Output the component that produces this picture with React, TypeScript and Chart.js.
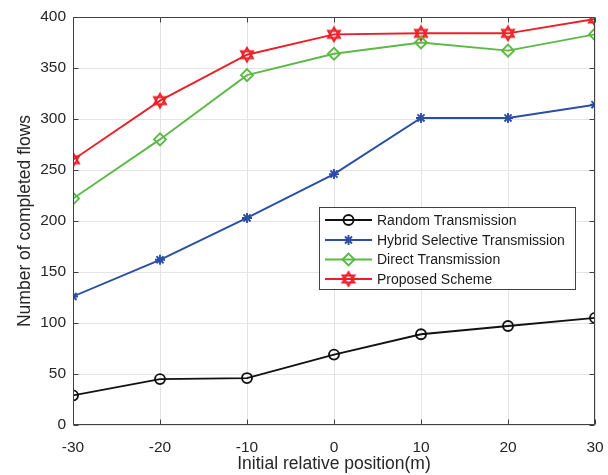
import React, { useEffect, useRef } from 'react';
import { Chart, registerables } from 'chart.js';
import { drawPoint } from 'chart.js/helpers';

Chart.register(...registerables);

const positions = [-30, -20, -10, 0, 10, 20, 30];
const randomTx = [29, 45, 46, 69, 89, 97, 105];
const hybridTx = [126, 162, 203, 246, 301, 301, 314];
const directTx = [222, 280, 343, 364, 375, 367, 383];
const proposedTx = [260, 318, 363, 383, 384, 384, 398];
const seriesNames = ['Random Transmission', 'Hybrid Selective Transmission', 'Direct Transmission', 'Proposed Scheme'];
const xTickValues = [-30, -20, -10, 0, 10, 20, 30];
const yTickValues = [0, 50, 100, 150, 200, 250, 300, 350, 400];
const xTitle = 'Initial relative position(m)';
const yTitle = 'Number of completed flows';

const COLORS = ['#111111', '#2a4ea6', '#5cb946', '#ec1f27'];
const FONT = '"Liberation Sans", Arial, Helvetica, sans-serif';

function makeHexagram(color: string): HTMLCanvasElement {
  const c = document.createElement('canvas');
  c.width = 18;
  c.height = 18;
  const ctx = c.getContext('2d')!;
  const cx = 9, cy = 9, r = 7;
  ctx.strokeStyle = color;
  ctx.lineWidth = 1.8;
  ctx.lineJoin = 'miter';
  for (let t = 0; t < 2; t++) {
    ctx.beginPath();
    for (let k = 0; k < 3; k++) {
      const a = -Math.PI / 2 + t * Math.PI + (k * 2 * Math.PI) / 3;
      const px = cx + r * Math.cos(a);
      const py = cy + r * Math.sin(a);
      if (k === 0) ctx.moveTo(px, py);
      else ctx.lineTo(px, py);
    }
    ctx.closePath();
    ctx.stroke();
  }
  return c;
}

function toPoints(vals: number[]) {
  return positions.map((x, i) => ({ x, y: vals[i] }));
}

export default function App() {
  const ref = useRef<HTMLCanvasElement | null>(null);

  useEffect(() => {
    const canvas = ref.current;
    if (!canvas) return;
    const hexagram = makeHexagram(COLORS[3]);
    const markerDefs: any[] = [
      { pointStyle: 'circle', radius: 5, borderWidth: 1.9 },
      { pointStyle: 'star', radius: 5, borderWidth: 1.9 },
      { pointStyle: 'rectRot', radius: 6, borderWidth: 1.9 },
      { pointStyle: hexagram, radius: 7, borderWidth: 1.9 },
    ];
    const seriesData = [randomTx, hybridTx, directTx, proposedTx];

    const framePlugin = {
      id: 'matlabFrame',
      afterDatasetsDraw(chart: any) {
        const { ctx, chartArea: a, scales } = chart;
        ctx.save();
        ctx.strokeStyle = '#404040';
        ctx.lineWidth = 1;
        const L = Math.round(a.left) + 0.5, R = Math.round(a.right) - 0.5;
        const T = Math.round(a.top) + 0.5, B = Math.round(a.bottom) - 0.5;
        ctx.beginPath();
        ctx.rect(L, T, R - L, B - T);
        const tl = 5;
        xTickValues.forEach((v) => {
          const x = Math.round(scales.x.getPixelForValue(v)) + 0.5;
          ctx.moveTo(x, B); ctx.lineTo(x, B - tl);
          ctx.moveTo(x, T); ctx.lineTo(x, T + tl);
        });
        yTickValues.forEach((v) => {
          const y = Math.round(scales.y.getPixelForValue(v)) + 0.5;
          ctx.moveTo(L, y); ctx.lineTo(L + tl, y);
          ctx.moveTo(R, y); ctx.lineTo(R - tl, y);
        });
        ctx.stroke();
        ctx.restore();
      },
      afterDraw(chart: any) {
        const { ctx } = chart;
        ctx.save();
        const bx = 319.5, by = 207.5, bw = 256, bh = 82;
        ctx.fillStyle = '#ffffff';
        ctx.fillRect(bx, by, bw, bh);
        ctx.strokeStyle = '#404040';
        ctx.lineWidth = 1;
        ctx.strokeRect(bx, by, bw, bh);
        const rows = [220, 240, 259.5, 279];
        ctx.font = `14px ${FONT}`;
        ctx.textBaseline = 'middle';
        ctx.textAlign = 'left';
        seriesNames.forEach((name, i) => {
          const y = rows[i];
          ctx.strokeStyle = COLORS[i];
          ctx.lineWidth = 1.9;
          ctx.beginPath();
          ctx.moveTo(325, y);
          ctx.lineTo(372, y);
          ctx.stroke();
          ctx.fillStyle = 'rgba(0,0,0,0)';
          ctx.strokeStyle = COLORS[i];
          ctx.lineWidth = markerDefs[i].borderWidth;
          drawPoint(ctx, { ...markerDefs[i], rotation: 0 }, 348.5, y);
          ctx.fillStyle = '#1a1a1a';
          ctx.fillText(name, 377, y + 1);
        });
        ctx.restore();
      },
    };

    const chart = new Chart(canvas, {
      type: 'line',
      data: {
        datasets: seriesData.map((vals, i) => ({
          label: seriesNames[i],
          data: toPoints(vals),
          borderColor: COLORS[i],
          backgroundColor: 'rgba(0,0,0,0)',
          borderWidth: 1.9,
          pointStyle: markerDefs[i].pointStyle,
          pointRadius: markerDefs[i].radius,
          pointBorderWidth: markerDefs[i].borderWidth,
          pointBorderColor: COLORS[i],
          pointBackgroundColor: 'rgba(0,0,0,0)',
          tension: 0,
          fill: false,
        })),
      },
      options: {
        animation: false,
        responsive: false,
        devicePixelRatio: 1,
        layout: { padding: { top: 17, right: 13, left: 0, bottom: 0 } },
        plugins: { legend: { display: false }, tooltip: { enabled: false } },
        scales: {
          x: {
            type: 'linear',
            min: -30,
            max: 30,
            afterBuildTicks: (s: any) => { s.ticks = xTickValues.map((v) => ({ value: v })); },
            afterFit: (s: any) => { s.height = 50; s.paddingLeft = 0; s.paddingRight = 0; },
            ticks: { color: '#262626', font: { family: FONT, size: 15.5 }, padding: 13, maxRotation: 0 },
            grid: { color: '#e4e4e4', lineWidth: 1, drawTicks: false },
            border: { display: false },
            title: { display: true, text: xTitle, color: '#262626', font: { family: FONT, size: 17.5 }, padding: { top: 0, bottom: 0 } },
          },
          y: {
            type: 'linear',
            min: 0,
            max: 400,
            afterBuildTicks: (s: any) => { s.ticks = yTickValues.map((v) => ({ value: v })); },
            afterFit: (s: any) => { s.width = 73; s.paddingTop = 0; s.paddingBottom = 0; },
            ticks: { color: '#262626', font: { family: FONT, size: 15.5 }, padding: 7 },
            grid: { color: '#e4e4e4', lineWidth: 1, drawTicks: false },
            border: { display: false },
            title: { display: true, text: yTitle, color: '#262626', font: { family: FONT, size: 17.5 }, padding: { top: 14.5, bottom: 0 } },
          },
        },
      },
      plugins: [framePlugin],
    } as any);
    return () => chart.destroy();
  }, []);

  return (
    <div style={{ position: 'absolute', left: 0, top: 0, width: 608, height: 475, background: '#fff' }}>
      <canvas ref={ref} width={608} height={475} style={{ display: 'block', width: 608, height: 475 }} />
    </div>
  );
}
